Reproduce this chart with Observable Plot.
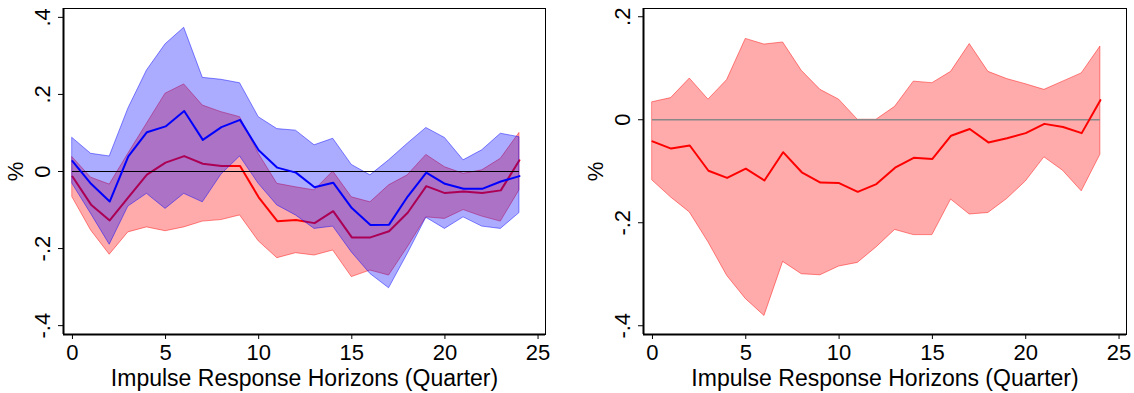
<!DOCTYPE html>
<html>
<head>
<meta charset="utf-8">
<script src="https://cdn.jsdelivr.net/npm/d3@7"></script>
<script src="https://cdn.jsdelivr.net/npm/@observablehq/plot@0.6"></script>
<style>
  html, body { margin: 0; padding: 0; background: #fff; }
  #wrap { display: flex; width: 1134px; height: 393px; }
  svg { font-family: "Liberation Sans", Arial, Helvetica, sans-serif; }
</style>
</head>
<body>
<div id="wrap"></div>
<script>
// ---- data ----
const horizons = [0,1,2,3,4,5,6,7,8,9,10,11,12,13,14,15,16,17,18,19,20,21,22,23,24];

// left panel, blue series
const leftBlueMean  = [0.027,-0.032,-0.078,0.039,0.102,0.117,0.157,0.082,0.115,0.134,0.055,0.010,-0.003,-0.041,-0.029,-0.095,-0.139,-0.138,-0.065,-0.003,-0.032,-0.045,-0.045,-0.026,-0.012];
const leftBlueUpper = [0.087,0.046,0.039,0.163,0.262,0.330,0.373,0.243,0.238,0.229,0.141,0.110,0.106,0.068,0.085,0.017,-0.010,0.029,0.072,0.113,0.087,0.029,0.055,0.098,0.089];
const leftBlueLower = [-0.032,-0.110,-0.190,-0.091,-0.058,-0.097,-0.058,-0.080,-0.008,0.039,-0.032,-0.088,-0.114,-0.149,-0.143,-0.210,-0.266,-0.303,-0.214,-0.120,-0.149,-0.119,-0.143,-0.149,-0.108];

// left panel, red series
const leftRedMean  = [-0.013,-0.086,-0.127,-0.067,-0.008,0.023,0.040,0.020,0.014,0.014,-0.067,-0.129,-0.126,-0.134,-0.103,-0.171,-0.171,-0.155,-0.107,-0.038,-0.056,-0.052,-0.056,-0.049,0.029];
const leftRedUpper = [0.037,-0.016,-0.034,0.046,0.124,0.202,0.226,0.171,0.154,0.141,0.046,-0.032,-0.041,-0.049,0.000,-0.067,-0.080,-0.036,-0.010,0.043,0.011,-0.006,0.003,0.033,0.100];
const leftRedLower = [-0.067,-0.153,-0.216,-0.158,-0.145,-0.155,-0.145,-0.130,-0.126,-0.114,-0.181,-0.225,-0.212,-0.218,-0.205,-0.274,-0.257,-0.270,-0.197,-0.119,-0.123,-0.100,-0.117,-0.130,-0.049];

// right panel
const rightMean  = [-0.042,-0.056,-0.050,-0.099,-0.113,-0.095,-0.118,-0.063,-0.102,-0.122,-0.123,-0.140,-0.125,-0.093,-0.074,-0.076,-0.031,-0.018,-0.044,-0.036,-0.026,-0.008,-0.014,-0.026,0.038];
const rightUpper = [0.034,0.042,0.080,0.039,0.077,0.157,0.146,0.150,0.095,0.058,0.039,0.000,0.000,0.025,0.074,0.071,0.093,0.147,0.093,0.079,0.069,0.058,0.074,0.090,0.142];
const rightLower = [-0.118,-0.151,-0.180,-0.238,-0.303,-0.348,-0.381,-0.276,-0.300,-0.302,-0.285,-0.278,-0.248,-0.214,-0.224,-0.224,-0.155,-0.184,-0.181,-0.154,-0.120,-0.073,-0.099,-0.139,-0.068];

const xTicks = [0,5,10,15,20,25];
const yTicksLeft = [-0.4,-0.2,0,0.2,0.4];
const yTicksRight = [-0.4,-0.2,0,0.2];
const xTitle = "Impulse Response Horizons (Quarter)";
const yTitle = "%";

// ---- helpers ----
const rows = (mean, lo, hi) => horizons.map((h, i) => ({h, mean: mean[i], lo: lo[i], hi: hi[i]}));
const fmt = d => d === 0 ? "0" : String(d).replace("0.", ".");
const FS = 22;
const FS_TITLE = 23;
const xDomain = [-0.48, 25.4];

function band(data, color) {
  return Plot.areaY(data, {x: "h", y1: "lo", y2: "hi", fill: color, fillOpacity: 0.33,
    stroke: color, strokeOpacity: 0.45, strokeWidth: 1, curve: "linear"});
}
function meanLine(data, color) {
  return Plot.lineY(data, {x: "h", y: "mean", stroke: color, strokeWidth: 2, curve: "linear"});
}

function panel({marginLeft, marginRight, yDomain, yTicks, layers}) {
  return Plot.plot({
    width: 567, height: 393,
    marginLeft, marginRight, marginTop: 8, marginBottom: 59,
    style: {fontFamily: '"Liberation Sans", Arial, Helvetica, sans-serif', color: "#000", background: "#fff"},
    x: {domain: xDomain},
    y: {domain: yDomain},
    marks: [
      ...layers,
      Plot.frame({stroke: "#000", strokeWidth: 1}),
      Plot.ruleX([xDomain[0]], {stroke: "#000", strokeWidth: 2}),
      Plot.ruleY([yDomain[0]], {stroke: "#000", strokeWidth: 2}),
      Plot.axisX({ticks: xTicks, tickSize: 5, tickPadding: 5, fontSize: FS, label: null, stroke: "#000", tickFormat: d => String(d)}),
      Plot.axisY({ticks: yTicks, tickSize: 5, tickFormat: () => "", label: null, stroke: "#000"}),
      Plot.text(yTicks, {y: d => d, text: fmt, frameAnchor: "left", dx: -21, rotate: -90,
        textAnchor: "middle", lineAnchor: "middle", fontSize: FS, fill: "#000"}),
      Plot.text([yTitle], {text: d => d, frameAnchor: "left", dx: -48, rotate: -90,
        textAnchor: "middle", lineAnchor: "middle", fontSize: FS, fill: "#000"}),
      Plot.text([xTitle], {text: d => d, frameAnchor: "bottom", dy: 44,
        textAnchor: "middle", lineAnchor: "middle", fontSize: FS_TITLE, fill: "#000"})
    ]
  });
}

const blue = rows(leftBlueMean, leftBlueLower, leftBlueUpper);
const red = rows(leftRedMean, leftRedLower, leftRedUpper);
const right = rows(rightMean, rightLower, rightUpper);
const x0 = horizons[0], x1 = horizons[horizons.length - 1];

const left = panel({
  marginLeft: 63, marginRight: 22,
  yDomain: [-0.423, 0.423], yTicks: yTicksLeft,
  layers: [
    band(red, "#ff0000"),
    meanLine(red, "#ff0000"),
    band(blue, "#0000ff"),
    Plot.ruleY([0], {x1: x0, x2: x1, stroke: "#000", strokeWidth: 1}),
    meanLine(blue, "#0000ff")
  ]
});

const rightPlot = panel({
  marginLeft: 76, marginRight: 8,
  yDomain: [-0.417, 0.216], yTicks: yTicksRight,
  layers: [
    band(right, "#ff0000"),
    Plot.ruleY([0], {x1: x0, x2: x1, stroke: "#888", strokeWidth: 1.5}),
    meanLine(right, "#ff0000")
  ]
});

const wrap = document.getElementById("wrap");
wrap.appendChild(left);
wrap.appendChild(rightPlot);
</script>
</body>
</html>
